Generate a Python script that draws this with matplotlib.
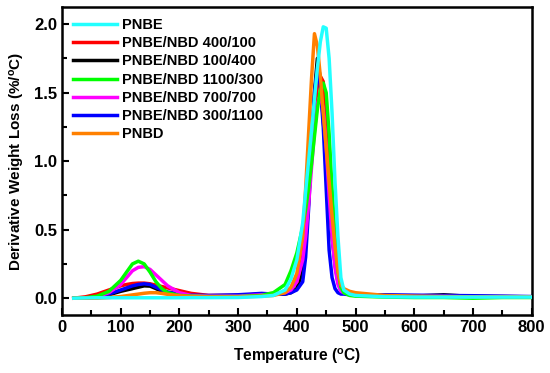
import numpy as np
import matplotlib
matplotlib.use("Agg")
import matplotlib.pyplot as plt
from matplotlib.ticker import MultipleLocator

plt.rcParams['font.family'] = ['Liberation Sans', 'DejaVu Sans']
plt.rcParams['font.weight'] = 'bold'
plt.rcParams['mathtext.fontset'] = 'custom'
plt.rcParams['mathtext.bf'] = 'Liberation Sans:bold'
plt.rcParams['mathtext.rm'] = 'Liberation Sans:bold'
plt.rcParams['mathtext.default'] = 'bf'

# temperature grid (degC)
T = [20, 40, 60, 80, 100, 110, 120, 130, 140, 150, 160, 170, 180, 200, 220, 250, 300, 340,
     360, 380, 390, 400, 410, 415, 420, 425, 430, 435, 440, 445, 450, 455, 460, 465, 470, 475, 480, 490, 500,
     550, 600, 650, 700, 750, 800]

pnbe = [0.0, 0.002, 0.003, 0.003, 0.003, 0.003, 0.003, 0.003, 0.003, 0.003, 0.003, 0.003, 0.003, 0.003, 0.004, 0.004, 0.005, 0.012,
        0.02, 0.06, 0.14, 0.28, 0.55, 0.78, 1.0, 1.22, 1.45, 1.68, 1.87, 1.98, 1.97, 1.75, 1.35, 0.85, 0.45, 0.15, 0.06, 0.03, 0.02,
        0.01, 0.008, 0.008, 0.008, 0.008, 0.008]
nbd_400_100 = [0.0, 0.01, 0.03, 0.06, 0.09, 0.1, 0.107, 0.11, 0.11, 0.105, 0.095, 0.085, 0.075, 0.055, 0.035, 0.02, 0.02, 0.03,
               0.035, 0.04, 0.06, 0.12, 0.3, 0.5, 0.75, 1.05, 1.35, 1.55, 1.62, 1.58, 1.3, 0.95, 0.6, 0.32, 0.14, 0.07, 0.04, 0.03, 0.025,
               0.02, 0.015, 0.015, 0.012, 0.012, 0.01]
nbd_100_400 = [0.0, 0.0, 0.008, 0.025, 0.05, 0.06, 0.07, 0.08, 0.09, 0.088, 0.07, 0.05, 0.035, 0.02, 0.015, 0.012, 0.015, 0.025,
               0.03, 0.03, 0.04, 0.07, 0.2, 0.4, 0.7, 1.1, 1.5, 1.75, 1.6, 1.3, 1.0, 0.7, 0.45, 0.25, 0.12, 0.06, 0.04, 0.03, 0.02,
               0.02, 0.015, 0.025, 0.012, 0.01, 0.01]
nbd_1100_300 = [0.0, 0.003, 0.015, 0.05, 0.13, 0.19, 0.25, 0.27, 0.25, 0.19, 0.12, 0.07, 0.04, 0.02, 0.015, 0.012, 0.012, 0.02,
                0.04, 0.1, 0.2, 0.33, 0.52, 0.65, 0.8, 0.98, 1.18, 1.38, 1.52, 1.57, 1.5, 1.2, 0.8, 0.45, 0.2, 0.08, 0.04, 0.02, 0.015,
                0.008, 0.005, 0.005, 0.0, 0.005, 0.005]
nbd_700_700 = [0.0, 0.0, 0.01, 0.04, 0.1, 0.15, 0.2, 0.225, 0.23, 0.21, 0.17, 0.13, 0.09, 0.04, 0.02, 0.015, 0.015, 0.025,
               0.03, 0.04, 0.06, 0.12, 0.28, 0.45, 0.68, 0.95, 1.22, 1.42, 1.48, 1.38, 1.1, 0.75, 0.45, 0.22, 0.1, 0.05, 0.04, 0.03, 0.02,
               0.015, 0.012, 0.012, 0.01, 0.01, 0.01]
nbd_300_1100 = [0.0, 0.0, 0.01, 0.03, 0.06, 0.075, 0.09, 0.1, 0.105, 0.1, 0.08, 0.06, 0.045, 0.03, 0.022, 0.02, 0.025, 0.035,
                0.03, 0.03, 0.04, 0.06, 0.12, 0.3, 0.65, 1.1, 1.5, 1.67, 1.55, 1.25, 0.8, 0.35, 0.15, 0.07, 0.04, 0.03, 0.03, 0.025, 0.025,
                0.025, 0.022, 0.02, 0.018, 0.015, 0.012]
pnbd = [0.0, 0.0, 0.0, 0.005, 0.012, 0.018, 0.024, 0.03, 0.036, 0.04, 0.04, 0.035, 0.028, 0.018, 0.012, 0.01, 0.01, 0.015,
        0.02, 0.04, 0.08, 0.18, 0.45, 0.8, 1.2, 1.6, 1.93, 1.84, 1.62, 1.35, 1.1, 0.85, 0.6, 0.38, 0.2, 0.1, 0.07, 0.05, 0.04,
        0.02, 0.015, 0.012, 0.01, 0.01, 0.01]

labels = ['PNBE', 'PNBE/NBD 400/100', 'PNBE/NBD 100/400', 'PNBE/NBD 1100/300',
          'PNBE/NBD 700/700', 'PNBE/NBD 300/1100', 'PNBD']
series = [pnbe, nbd_400_100, nbd_100_400, nbd_1100_300, nbd_700_700, nbd_300_1100, pnbd]
colors = ['#22FFFF', '#FF0000', '#000000', '#00FF00', '#FF00FF', '#0000FF', '#FF8000']
zorders = [10, 4, 3, 6, 5, 4.5, 7]

fig = plt.figure(figsize=(5.5, 3.73), dpi=100)
ax = fig.add_axes([0.1127, 0.155, 0.854, 0.826])

for y, lab, c, z in zip(series, labels, colors, zorders):
    ax.plot(T, y, color=c, lw=2.5, label=lab, zorder=z, solid_joinstyle='round')

ax.set_xlim(0, 800)
ax.set_ylim(-0.124, 2.124)
ax.xaxis.set_major_locator(MultipleLocator(100))
ax.xaxis.set_minor_locator(MultipleLocator(50))
ax.yaxis.set_major_locator(MultipleLocator(0.5))
ax.yaxis.set_minor_locator(MultipleLocator(0.25))
ax.tick_params(which='both', direction='in', top=False, right=False, width=1.5, labelsize=12)
ax.tick_params(which='major', length=5)
ax.tick_params(which='minor', length=3.5)
for s in ax.spines.values():
    s.set_linewidth(1.8)

ax.set_xlabel(r'Temperature ($^{o}$C)', fontsize=11.2, fontweight='bold', labelpad=8)
ax.set_ylabel(r'Derivative Weight Loss (%/$^{o}$C)', fontsize=11, fontweight='bold', labelpad=5)

leg = ax.legend(loc='upper left', frameon=False, fontsize=10.5, handlelength=3.0,
                labelspacing=0.29, handletextpad=0.35, borderaxespad=0.35)

fig.savefig('out.png', dpi=100)
